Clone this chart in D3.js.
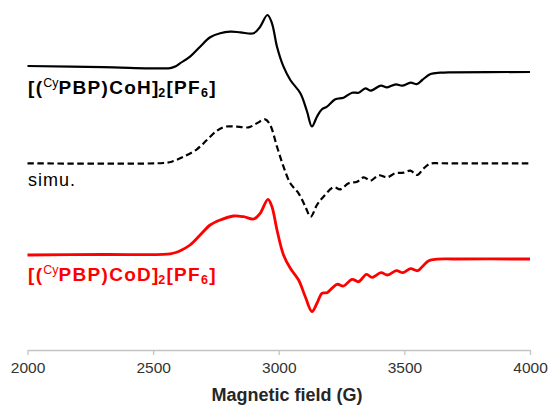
<!DOCTYPE html>
<html>
<head>
<meta charset="utf-8">
<script src="https://cdn.jsdelivr.net/npm/d3@7"></script>
<style>
  body { margin: 0; background: #fff; }
  text { font-family: "Liberation Sans", Arial, sans-serif; }
</style>
</head>
<body>
<div id="chart"></div>
<script>
// field values (G) and signal (a.u., relative to each trace's baseline)
const fieldCoH = [2000, 2300, 2540, 2568, 2590, 2607, 2647, 2687, 2727, 2767, 2807, 2847, 2900, 2926, 2955, 2973, 2993, 3019, 3046, 3086, 3112, 3132, 3152, 3172, 3192, 3225, 3258, 3292, 3318, 3345, 3365, 3406, 3431, 3466, 3491, 3525, 3551, 3571, 3604, 3643, 3683, 4000];
const intCoH   = [6, 4.8, 3.6, 3.9, 5.8, 8.7, 15.3, 25.3, 34.7, 38.7, 40.3, 39.7, 38.7, 45.3, 57, 48.7, 25.3, 5.3, -8, -21.3, -39, -54.5, -44.7, -37.3, -34.7, -27.3, -25.7, -20.7, -20.7, -16.3, -18.7, -13.7, -15.3, -12.3, -13.7, -10.7, -12, -8, -2, -0.7, -0.3, 0];

const fieldSim = [2000, 2540, 2574, 2621, 2674, 2714, 2754, 2787, 2834, 2880, 2913, 2946, 2966, 2993, 3019, 3046, 3079, 3106, 3127, 3152, 3178, 3218, 3245, 3278, 3312, 3338, 3365, 3398, 3431, 3464, 3497, 3524, 3551, 3577, 3604, 3640, 3700, 4000];
const intSim   = [0, 0.3, 1.6, 6.6, 14, 23.3, 32.6, 36.6, 36.6, 36, 40, 44, 38.3, 16.6, -3.4, -20, -30, -43.4, -53.4, -41.7, -33.4, -24, -26, -20, -18.4, -14, -17.4, -12, -14, -10, -9.4, -7.4, -11.7, -5, -0.3, 0, 0, 0];

const fieldCoD = [2000, 2300, 2540, 2568, 2590, 2608, 2647, 2687, 2727, 2767, 2820, 2860, 2900, 2926, 2957, 2973, 2993, 3019, 3046, 3079, 3106, 3132, 3152, 3172, 3192, 3232, 3258, 3292, 3318, 3349, 3371, 3407, 3433, 3468, 3495, 3524, 3553, 3571, 3597, 3630, 3700, 4000];
const intCoD   = [4, 4.5, 4.6, 5.2, 6.5, 8.3, 14, 24, 34, 39, 43, 42.3, 40, 45.7, 59.7, 52.3, 29, 4, -9.3, -21, -38, -52.5, -44.3, -34.3, -33.7, -25.3, -27, -20.3, -22.7, -15.3, -18.3, -13.7, -16, -11.7, -13.7, -9.7, -11.7, -7.7, -1.7, -0.2, 0, 0];

const fieldTicks = [2000, 2500, 3000, 3500, 4000];

const width = 549, height = 405;
const plot = {left: 27.5, right: 530, top: 0, bottom: 350};

const svg = d3.select('#chart')
    .append('svg')
    .attr('width', width)
    .attr('height', height);

const scaleX = d3.scaleLinear([2000, 4000], [plot.left, plot.right]);
const scaleY = d3.scaleLinear([0, 350], [plot.bottom, plot.top]);

// axis
const axisX = svg.append('g')
    .attr('transform', `translate(0,${plot.bottom})`)
    .call(d3.axisBottom(scaleX)
        .tickValues(fieldTicks)
        .tickFormat(d3.format('d'))
        .tickSize(5)
        .tickSizeOuter(0)
        .tickPadding(7));
axisX.select('.domain').attr('stroke', '#c4c4c4').attr('stroke-width', 1.6);
axisX.selectAll('.tick line').attr('stroke', '#c4c4c4').attr('stroke-width', 1.3);
axisX.selectAll('.tick text')
    .attr('fill', '#333')
    .style('font-size', '15.5px');

svg.append('text')
    .attr('x', 287).attr('y', 401)
    .attr('text-anchor', 'middle')
    .style('font-size', '18px').style('font-weight', 'bold')
    .attr('fill', '#262626')
    .text('Magnetic field (G)');

// traces, each stacked on its own baseline
function drawTrace(fields, values, base, color, widthPx, dash){
    const line = d3.line()
        .x((d, i) => scaleX(fields[i]))
        .y(d => scaleY(base + d))
        .curve(d3.curveCatmullRom.alpha(0.5));
    const path = svg.append('path')
        .datum(values)
        .attr('d', line)
        .attr('fill', 'none')
        .attr('stroke', color)
        .attr('stroke-width', widthPx)
        .attr('stroke-linejoin', 'round');
    if (dash) path.attr('stroke-dasharray', dash);
}

drawTrace(fieldCoH, intCoH, 278, '#000', 2.2);
drawTrace(fieldSim, intSim, 186.7, '#000', 2.2, '6.5,3.5');
drawTrace(fieldCoD, intCoD, 91, '#ff0000', 2.8);

// labels
function formula(y, color, metal){
    const t = svg.append('text')
        .attr('x', 28).attr('y', y)
        .attr('fill', color)
        .style('font-size', '19px').style('font-weight', 'bold')
        .style('letter-spacing', '1.3px');
    t.append('tspan').text('[(');
    t.append('tspan').text('Cy').attr('dy', -7).style('font-size', '12.5px').style('font-weight', 'normal').style('letter-spacing', '0px');
    t.append('tspan').text(`PBP)Co${metal}]`).attr('dy', 7);
    t.append('tspan').text('2').attr('dy', 2.5).attr('dx', -1.5).style('font-size', '12.5px');
    t.append('tspan').text('[PF').attr('dy', -2.5);
    t.append('tspan').text('6').attr('dy', 2.5).style('font-size', '12.5px');
    t.append('tspan').text(']').attr('dy', -2.5);
}

formula(94, '#000', 'H');
formula(281, '#ff0000', 'D');

svg.append('text')
    .attr('x', 28).attr('y', 186)
    .attr('fill', '#000')
    .style('font-size', '18px')
    .style('letter-spacing', '1px')
    .text('simu.');
</script>
</body>
</html>
